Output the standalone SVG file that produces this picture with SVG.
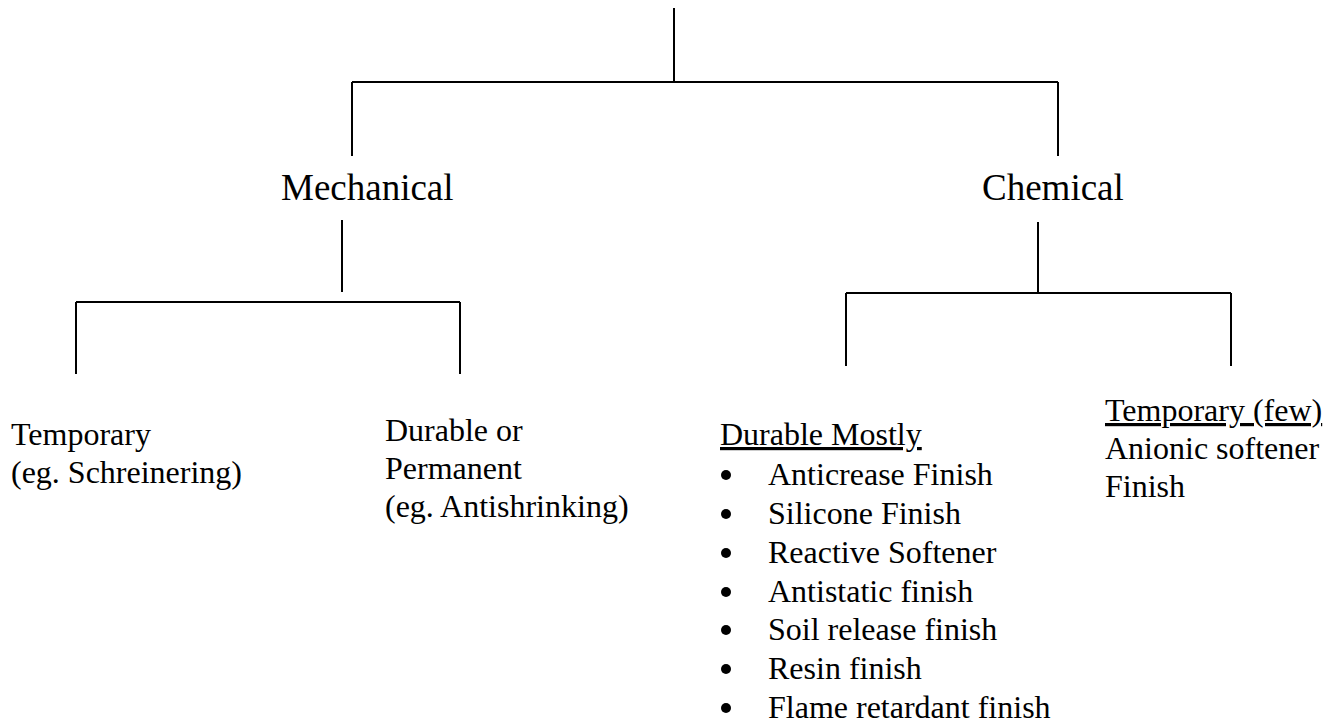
<svg xmlns="http://www.w3.org/2000/svg" width="1338" height="728" viewBox="0 0 1338 728">
<style>
.ln{stroke:#000;stroke-width:2;fill:none}
.t{font-family:"Liberation Serif","Times New Roman",serif;font-size:32px;fill:#000}
.h{font-family:"Liberation Serif","Times New Roman",serif;font-size:37px;fill:#000}
</style>
<rect width="1338" height="728" fill="#fff"/>
<g id="connectors">
<path class="ln" d="M674 8V82M352 82H1058M352 82V156M1058 82V156"/>
<path class="ln" d="M342 220V292M76 302H460M76 302V374M460 302V374"/>
<path class="ln" d="M1038 222V293M846 293H1231M846 293V366M1231 293V366"/>
</g>
<g id="mechanical"><text class="h" x="281" y="200">Mechanical</text></g>
<g id="chemical"><text class="h" x="982" y="200">Chemical</text></g>
<g id="mech-temporary"><text class="t" x="11" y="445">Temporary</text><text class="t" x="11" y="483">(eg. Schreinering)</text></g>
<g id="mech-durable"><text class="t" x="385" y="441">Durable or</text><text class="t" x="385" y="479">Permanent</text><text class="t" x="385" y="517">(eg. Antishrinking)</text></g>
<g id="chem-durable">
<text class="t" x="720" y="445" text-decoration="underline">Durable Mostly</text>
<g fill="#000"><circle cx="726" cy="475" r="5"/><circle cx="726" cy="514" r="5"/><circle cx="726" cy="553" r="5"/><circle cx="726" cy="592" r="5"/><circle cx="726" cy="630" r="5"/><circle cx="726" cy="669" r="5"/><circle cx="726" cy="708" r="5"/></g>
<text class="t" x="768" y="485">Anticrease Finish</text>
<text class="t" x="768" y="524">Silicone Finish</text>
<text class="t" x="768" y="563">Reactive Softener</text>
<text class="t" x="768" y="602">Antistatic finish</text>
<text class="t" x="768" y="640">Soil release finish</text>
<text class="t" x="768" y="679">Resin finish</text>
<text class="t" x="768" y="718">Flame retardant finish</text>
</g>
<g id="chem-temporary"><text class="t" x="1105" y="421" text-decoration="underline">Temporary (few)</text><text class="t" x="1105" y="459">Anionic softener</text><text class="t" x="1105" y="497">Finish</text></g>
</svg>
